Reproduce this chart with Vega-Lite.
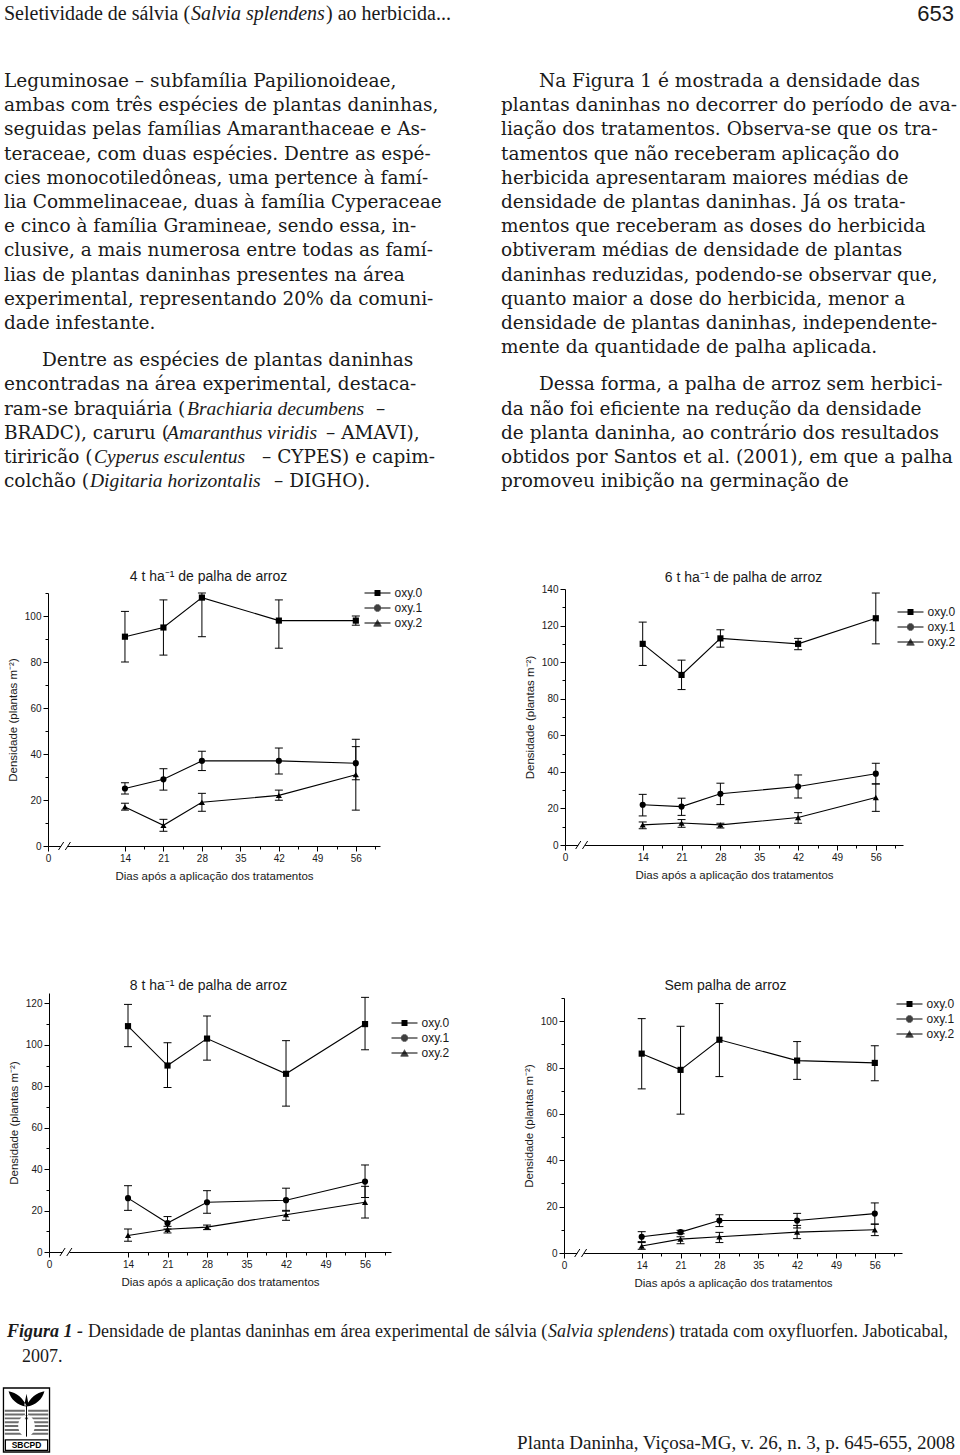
{
"$schema": "https://vega.github.io/schema/vega-lite/v6.json",
"background": "white",
"padding": 0,
"autosize": {"type": "none"},
"width": 960,
"height": 1455,
"config": {
  "view": {"stroke": null},
  "axis": {"labelFont": "Liberation Sans", "labelFontSize": 10, "labelColor": "#1a1a1a", "titleFont": "Liberation Sans", "titleFontSize": 11.5, "titleFontWeight": "normal", "titleColor": "#1a1a1a", "domainColor": "black", "tickColor": "black", "grid": false, "tickSize": 5, "labelPadding": 2, "domainWidth": 1, "tickWidth": 1},
  "axisX": {"titlePadding": 7, "labelFlush": false},
  "axisY": {"titlePadding": 6},
  "legend": {"labelFont": "Liberation Sans", "labelFontSize": 12, "labelColor": "#1a1a1a", "padding": 0, "rowPadding": 3, "labelOffset": 11, "symbolSize": 4, "symbolStrokeWidth": 1, "symbolStrokeColor": "black", "title": null}
},
"datasets": {
  "dens": [
    {"p":"4t","s":"oxy.0","d":14,"m":91,"lo":80,"hi":102},
    {"p":"4t","s":"oxy.0","d":21,"m":95,"lo":83,"hi":107},
    {"p":"4t","s":"oxy.0","d":28,"m":108,"lo":91,"hi":125},
    {"p":"4t","s":"oxy.0","d":42,"m":98,"lo":86,"hi":107},
    {"p":"4t","s":"oxy.0","d":56,"m":98,"lo":96,"hi":100},
    {"p":"4t","s":"oxy.1","d":14,"m":25,"lo":22.6,"hi":27.5},
    {"p":"4t","s":"oxy.1","d":21,"m":29,"lo":24.3,"hi":33.6},
    {"p":"4t","s":"oxy.1","d":28,"m":37,"lo":32.8,"hi":41.2},
    {"p":"4t","s":"oxy.1","d":42,"m":37,"lo":31.3,"hi":42.6},
    {"p":"4t","s":"oxy.1","d":56,"m":36,"lo":28.8,"hi":43.2},
    {"p":"4t","s":"oxy.2","d":14,"m":17,"lo":15.6,"hi":18.6},
    {"p":"4t","s":"oxy.2","d":21,"m":9,"lo":6.4,"hi":11.6},
    {"p":"4t","s":"oxy.2","d":28,"m":19,"lo":15.1,"hi":22.9},
    {"p":"4t","s":"oxy.2","d":42,"m":22,"lo":19.9,"hi":24.3},
    {"p":"4t","s":"oxy.2","d":56,"m":31,"lo":15.6,"hi":46.4},
    {"p":"6t","s":"oxy.0","d":14,"m":110,"lo":98.2,"hi":121.9},
    {"p":"6t","s":"oxy.0","d":21,"m":93,"lo":85,"hi":101.1},
    {"p":"6t","s":"oxy.0","d":28,"m":113,"lo":108.2,"hi":117.7},
    {"p":"6t","s":"oxy.0","d":42,"m":110,"lo":106.8,"hi":113},
    {"p":"6t","s":"oxy.0","d":56,"m":124,"lo":110,"hi":137.8},
    {"p":"6t","s":"oxy.1","d":14,"m":22,"lo":15.9,"hi":27.7},
    {"p":"6t","s":"oxy.1","d":21,"m":21,"lo":16.2,"hi":25.6},
    {"p":"6t","s":"oxy.1","d":28,"m":28,"lo":22.1,"hi":33.8},
    {"p":"6t","s":"oxy.1","d":42,"m":32,"lo":25.7,"hi":38.3},
    {"p":"6t","s":"oxy.1","d":56,"m":39,"lo":33.4,"hi":44.7},
    {"p":"6t","s":"oxy.2","d":14,"m":11,"lo":8.9,"hi":12.6},
    {"p":"6t","s":"oxy.2","d":21,"m":12,"lo":9.7,"hi":13.9},
    {"p":"6t","s":"oxy.2","d":28,"m":11,"lo":9.3,"hi":11.9},
    {"p":"6t","s":"oxy.2","d":42,"m":15,"lo":11.9,"hi":17.7},
    {"p":"6t","s":"oxy.2","d":56,"m":26,"lo":18.4,"hi":33.4},
    {"p":"8t","s":"oxy.0","d":14,"m":109,"lo":99.1,"hi":119.5},
    {"p":"8t","s":"oxy.0","d":21,"m":90,"lo":79.4,"hi":101},
    {"p":"8t","s":"oxy.0","d":28,"m":103,"lo":92.6,"hi":113.9},
    {"p":"8t","s":"oxy.0","d":42,"m":86,"lo":70.4,"hi":102},
    {"p":"8t","s":"oxy.0","d":56,"m":110,"lo":97.6,"hi":122.9},
    {"p":"8t","s":"oxy.1","d":14,"m":26,"lo":20.1,"hi":32},
    {"p":"8t","s":"oxy.1","d":21,"m":14,"lo":11.1,"hi":17.1},
    {"p":"8t","s":"oxy.1","d":28,"m":24,"lo":18.7,"hi":29.6},
    {"p":"8t","s":"oxy.1","d":42,"m":25,"lo":19.7,"hi":30.8},
    {"p":"8t","s":"oxy.1","d":56,"m":34,"lo":26.3,"hi":42},
    {"p":"8t","s":"oxy.2","d":14,"m":8,"lo":5.2,"hi":11.1},
    {"p":"8t","s":"oxy.2","d":21,"m":11,"lo":9.2,"hi":12.4},
    {"p":"8t","s":"oxy.2","d":28,"m":12,"lo":10.8,"hi":13},
    {"p":"8t","s":"oxy.2","d":42,"m":18,"lo":15.3,"hi":20.1},
    {"p":"8t","s":"oxy.2","d":56,"m":24,"lo":16.4,"hi":31.7},
    {"p":"0t","s":"oxy.0","d":14,"m":86,"lo":70.8,"hi":101.1},
    {"p":"0t","s":"oxy.0","d":21,"m":79,"lo":59.9,"hi":97.8},
    {"p":"0t","s":"oxy.0","d":28,"m":92,"lo":76.1,"hi":107.6},
    {"p":"0t","s":"oxy.0","d":42,"m":83,"lo":74.9,"hi":91.2},
    {"p":"0t","s":"oxy.0","d":56,"m":82,"lo":74.3,"hi":89.4},
    {"p":"0t","s":"oxy.1","d":14,"m":7,"lo":4.9,"hi":9.2},
    {"p":"0t","s":"oxy.1","d":21,"m":9,"lo":8.3,"hi":9.8},
    {"p":"0t","s":"oxy.1","d":28,"m":14,"lo":11.4,"hi":16.5},
    {"p":"0t","s":"oxy.1","d":42,"m":14,"lo":10.8,"hi":17.1},
    {"p":"0t","s":"oxy.1","d":56,"m":17,"lo":12.4,"hi":21.6},
    {"p":"0t","s":"oxy.2","d":14,"m":3,"lo":1.6,"hi":4.5},
    {"p":"0t","s":"oxy.2","d":21,"m":6,"lo":4,"hi":7},
    {"p":"0t","s":"oxy.2","d":28,"m":7,"lo":4.5,"hi":8.9},
    {"p":"0t","s":"oxy.2","d":42,"m":9,"lo":6.2,"hi":11.9},
    {"p":"0t","s":"oxy.2","d":56,"m":10,"lo":7.5,"hi":12.5}
  ],
  "body": [
    {"col":"left","para":1,"start":false,"line":0,"text":"Leguminosae – subfamília Papilionoideae,"},
    {"col":"left","para":1,"start":false,"line":1,"text":"ambas com três espécies de plantas daninhas,"},
    {"col":"left","para":1,"start":false,"line":2,"text":"seguidas pelas famílias Amaranthaceae e As-"},
    {"col":"left","para":1,"start":false,"line":3,"text":"teraceae, com duas espécies. Dentre as espé-"},
    {"col":"left","para":1,"start":false,"line":4,"text":"cies monocotiledôneas, uma pertence à famí-"},
    {"col":"left","para":1,"start":false,"line":5,"text":"lia Commelinaceae, duas à família Cyperaceae"},
    {"col":"left","para":1,"start":false,"line":6,"text":"e cinco à família Gramineae, sendo essa, in-"},
    {"col":"left","para":1,"start":false,"line":7,"text":"clusive, a mais numerosa entre todas as famí-"},
    {"col":"left","para":1,"start":false,"line":8,"text":"lias de plantas daninhas presentes na área"},
    {"col":"left","para":1,"start":false,"line":9,"text":"experimental, representando 20% da comuni-"},
    {"col":"left","para":1,"start":false,"line":10,"text":"dade infestante."},
    {"col":"left","para":2,"start":true,"line":11,"text":"Dentre as espécies de plantas daninhas"},
    {"col":"left","para":2,"start":false,"line":12,"text":"encontradas na área experimental, destaca-"},
    {"col":"left","para":2,"start":false,"line":13,"text":"ram-se braquiária ("},
    {"col":"left","para":2,"start":false,"line":14,"text":"BRADC), caruru ("},
    {"col":"left","para":2,"start":false,"line":15,"text":"tiriricão ("},
    {"col":"left","para":2,"start":false,"line":16,"text":"colchão ("},
    {"col":"right","para":1,"start":true,"line":0,"text":"Na Figura 1 é mostrada a densidade das"},
    {"col":"right","para":1,"start":false,"line":1,"text":"plantas daninhas no decorrer do período de ava-"},
    {"col":"right","para":1,"start":false,"line":2,"text":"liação dos tratamentos. Observa-se que os tra-"},
    {"col":"right","para":1,"start":false,"line":3,"text":"tamentos que não receberam aplicação do"},
    {"col":"right","para":1,"start":false,"line":4,"text":"herbicida apresentaram maiores médias de"},
    {"col":"right","para":1,"start":false,"line":5,"text":"densidade de plantas daninhas. Já os trata-"},
    {"col":"right","para":1,"start":false,"line":6,"text":"mentos que receberam as doses do herbicida"},
    {"col":"right","para":1,"start":false,"line":7,"text":"obtiveram médias de densidade de plantas"},
    {"col":"right","para":1,"start":false,"line":8,"text":"daninhas reduzidas, podendo-se observar que,"},
    {"col":"right","para":1,"start":false,"line":9,"text":"quanto maior a dose do herbicida, menor a"},
    {"col":"right","para":1,"start":false,"line":10,"text":"densidade de plantas daninhas, independente-"},
    {"col":"right","para":1,"start":false,"line":11,"text":"mente da quantidade de palha aplicada."},
    {"col":"right","para":2,"start":true,"line":12,"text":"Dessa forma, a palha de arroz sem herbici-"},
    {"col":"right","para":2,"start":false,"line":13,"text":"da não foi eficiente na redução da densidade"},
    {"col":"right","para":2,"start":false,"line":14,"text":"de planta daninha, ao contrário dos resultados"},
    {"col":"right","para":2,"start":false,"line":15,"text":"obtidos por Santos et al. (2001), em que a palha"},
    {"col":"right","para":2,"start":false,"line":16,"text":"promoveu inibição na germinação de"}
  ],
  "bodyit": [
    {"col":"left","para":2,"line":13,"text":"Brachiaria decumbens"},
    {"col":"left","para":2,"line":14,"text":"Amaranthus viridis"},
    {"col":"left","para":2,"line":15,"text":"Cyperus esculentus"},
    {"col":"left","para":2,"line":16,"text":"Digitaria horizontalis"}
  ],
  "bodysuf": [
    {"col":"left","para":2,"line":13,"text":"–"},
    {"col":"left","para":2,"line":14,"text":"– AMAVI),"},
    {"col":"left","para":2,"line":15,"text":"– CYPES) e capim-"},
    {"col":"left","para":2,"line":16,"text":"– DIGHO)."}
  ]
},
"resolve": {"scale": {"x": "independent", "y": "independent", "shape": "independent"}, "axis": {"x": "independent", "y": "independent"}, "legend": {"shape": "independent"}},
"layer": [
  {
    "encoding": {
      "x": {"field": "part", "type": "nominal", "scale": {"domain": ["running", "page"], "range": [4, 954], "padding": 0}, "axis": null},
      "y": {"field": "part", "type": "nominal", "scale": {"domain": ["running", "page"], "range": [14, 14], "padding": 0}, "axis": null},
      "text": {"field": "text"}
    },
    "layer": [
      {"data": {"values": [{"part": "running", "text": "Seletividade de sálvia ("}]},
       "mark": {"type": "text", "align": "left", "baseline": "middle", "font": "Liberation Serif", "fontSize": 20, "color": "#1a1a1a"}},
      {"data": {"values": [{"part": "running", "text": "Salvia splendens"}]},
       "mark": {"type": "text", "align": "left", "baseline": "middle", "font": "Liberation Serif", "fontStyle": "italic", "fontSize": 20, "color": "#1a1a1a", "dx": 187}},
      {"data": {"values": [{"part": "running", "text": ") ao herbicida..."}]},
       "mark": {"type": "text", "align": "left", "baseline": "middle", "font": "Liberation Serif", "fontSize": 20, "color": "#1a1a1a", "dx": 322}},
      {"data": {"values": [{"part": "page", "text": "653"}]},
       "mark": {"type": "text", "align": "right", "baseline": "middle", "font": "Liberation Sans", "fontSize": 22, "color": "#1a1a1a"}}
    ]
  },
  {
    "encoding": {
      "x": {"field": "col", "type": "nominal", "scale": {"domain": ["left", "right"], "range": [4, 501], "padding": 0}, "axis": null},
      "y": {"field": "line", "type": "quantitative", "scale": {"domain": [0, 20], "range": [81, 565], "nice": false, "zero": false}, "axis": null},
      "text": {"field": "text"}
    },
    "layer": [
      {"data": {"name": "body"},
       "mark": {"type": "text", "align": "left", "baseline": "middle", "font": "DejaVu Serif", "fontSize": 18.5, "color": "#1a1a1a", "dx": {"expr": "datum.start ? 38 : 0"}, "dy": {"expr": "datum.para == 2 ? 13 : 0"}}},
      {"data": {"name": "bodyit"},
       "mark": {"type": "text", "align": "left", "baseline": "middle", "font": "Liberation Serif", "fontStyle": "italic", "fontSize": 19.5, "color": "#1a1a1a", "dx": {"expr": "datum.line == 13 ? 183 : datum.line == 14 ? 163 : datum.line == 15 ? 90 : 86"}, "dy": 13}},
      {"data": {"name": "bodysuf"},
       "mark": {"type": "text", "align": "left", "baseline": "middle", "font": "DejaVu Serif", "fontSize": 18.5, "color": "#1a1a1a", "dx": {"expr": "datum.line == 13 ? 372 : datum.line == 14 ? 322 : datum.line == 15 ? 258 : 270"}, "dy": 13}}
    ]
  },
  {
    "data": {"name": "dens"},
    "transform": [{"filter": "datum.p == '4t'"}],
    "resolve": {"axis": {"x": "independent", "y": "independent"}, "scale": {"shape": "independent"}, "legend": {"shape": "independent"}},
    "layer": [
      {"mark": {"type": "line", "color": "black", "strokeWidth": 1.1},
       "encoding": {
         "x": {"field": "d", "type": "quantitative", "scale": {"domain": [0, 60.4], "range": [48, 380], "nice": false, "zero": false}, "axis": {"orient": "bottom", "offset": -609, "values": [0,14,21,28,35,42,49,56], "title": "Dias após a aplicação dos tratamentos"}},
         "y": {"field": "m", "type": "quantitative", "scale": {"domain": [0, 110], "range": [846, 593], "nice": false, "zero": false, "clamp": true}, "axis": {"orient": "left", "offset": -48, "values": [0,20,40,60,80,100], "title": "Densidade (plantas m⁻²)"}},
         "detail": {"field": "s", "type": "nominal"}}},
      {"mark": {"type": "rule", "color": "black", "strokeWidth": 1},
       "encoding": {
         "x": {"field": "d", "type": "quantitative", "scale": {"domain": [0, 60.4], "range": [48, 380], "nice": false, "zero": false}, "axis": {"orient": "bottom", "offset": -609, "values": [17.5,24.5,31.5,38.5,45.5,52.5,59.5], "labels": false, "domain": false, "tickSize": 3, "title": null}},
         "y": {"field": "lo", "type": "quantitative", "scale": {"domain": [0, 110], "range": [846, 593], "nice": false, "zero": false, "clamp": true}, "axis": {"orient": "left", "offset": -48, "values": [10,30,50,70,90,110], "labels": false, "domain": false, "tickSize": 3, "title": null}},
         "y2": {"field": "hi"}}},
      {"mark": {"type": "tick", "orient": "horizontal", "size": 8, "thickness": 1, "color": "black", "opacity": 1},
       "encoding": {
         "x": {"field": "d", "type": "quantitative", "scale": {"domain": [0, 60.4], "range": [48, 380], "nice": false, "zero": false}, "axis": {"orient": "top", "offset": -593, "labels": false, "ticks": false, "domain": false, "title": "4 t ha⁻¹ de palha de arroz", "titleFontSize": 14, "titleX": 208, "titleY": -17, "titleBaseline": "middle", "titleAnchor": "start", "titleAlign": "center"}},
         "y": {"field": "lo", "type": "quantitative", "scale": {"domain": [0, 110], "range": [846, 593], "nice": false, "zero": false, "clamp": true}, "axis": null}}},
      {"mark": {"type": "tick", "orient": "horizontal", "size": 8, "thickness": 1, "color": "black", "opacity": 1},
       "encoding": {
         "x": {"field": "d", "type": "quantitative", "scale": {"domain": [0, 60.4], "range": [48, 380], "nice": false, "zero": false}, "axis": null},
         "y": {"field": "hi", "type": "quantitative", "scale": {"domain": [0, 110], "range": [846, 593], "nice": false, "zero": false, "clamp": true}, "axis": null}}},
      {"mark": {"type": "point", "filled": true, "size": 38, "color": "black", "opacity": 1},
       "encoding": {
         "x": {"field": "d", "type": "quantitative", "scale": {"domain": [0, 60.4], "range": [48, 380], "nice": false, "zero": false}, "axis": null},
         "y": {"field": "m", "type": "quantitative", "scale": {"domain": [0, 110], "range": [846, 593], "nice": false, "zero": false, "clamp": true}, "axis": null},
         "shape": {"field": "s", "type": "nominal", "scale": {"domain": ["oxy.0","oxy.1","oxy.2"], "range": ["square","circle","triangle-up"]}, "legend": null}}},
      {"data": {"values": []},
       "mark": {"type": "point", "filled": false, "size": 4, "strokeWidth": 1, "color": "black", "opacity": 1},
       "encoding": {
         "shape": {"field": "s", "type": "nominal", "scale": {"domain": ["oxy.0","oxy.1","oxy.2"], "range": ["M-13,0H13M-3,-2.5H3M-3,-1.5H3M-3,-0.5H3M-3,0.5H3M-3,1.5H3M-3,2.5H3", "M-13,0H13M-1.8,-3H1.8M-2.9,-2H2.9M-3.35,-1H3.35M-3.35,1H3.35M-2.9,2H2.9M-1.8,3H1.8", "M-13,0H13M-0.3,-3H0.3M-0.9,-2H0.9M-1.5,-1H1.5M-2.2,0H2.2M-2.8,1H2.8M-3.4,2H3.4M-4,3H4"]},
           "legend": {"orient": "none", "legendX": 371.5, "legendY": 587, "title": null}}}},
      {"data": {"values": [{"p": "4t", "d": 3, "m": 0}]},
       "mark": {"type": "point", "shape": "square", "size": 49, "filled": true, "color": "white", "opacity": 1},
       "encoding": {
         "x": {"field": "d", "type": "quantitative", "scale": {"domain": [0, 60.4], "range": [48, 380], "nice": false, "zero": false}, "axis": null},
         "y": {"field": "m", "type": "quantitative", "scale": {"domain": [0, 110], "range": [846, 593], "nice": false, "zero": false, "clamp": true}, "axis": null}}},
      {"data": {"values": [{"p": "4t", "d": 3, "m": 0}]},
       "mark": {"type": "point", "shape": "M-1.5,1L-0.2,-1M0.2,1L1.5,-1", "size": 64, "filled": false, "color": "black", "strokeWidth": 1, "opacity": 1},
       "encoding": {
         "x": {"field": "d", "type": "quantitative", "scale": {"domain": [0, 60.4], "range": [48, 380], "nice": false, "zero": false}, "axis": null},
         "y": {"field": "m", "type": "quantitative", "scale": {"domain": [0, 110], "range": [846, 593], "nice": false, "zero": false, "clamp": true}, "axis": null}}}
    ]
  },
  {
    "data": {"name": "dens"},
    "transform": [{"filter": "datum.p == '6t'"}],
    "resolve": {"axis": {"x": "independent", "y": "independent"}, "scale": {"shape": "independent"}, "legend": {"shape": "independent"}},
    "layer": [
      {"mark": {"type": "line", "color": "black", "strokeWidth": 1.1},
       "encoding": {
         "x": {"field": "d", "type": "quantitative", "scale": {"domain": [0, 60.9], "range": [565, 903], "nice": false, "zero": false}, "axis": {"orient": "bottom", "offset": -610, "values": [0,14,21,28,35,42,49,56], "title": "Dias após a aplicação dos tratamentos"}},
         "y": {"field": "m", "type": "quantitative", "scale": {"domain": [0, 140], "range": [845, 589], "nice": false, "zero": false, "clamp": true}, "axis": {"orient": "left", "offset": -565, "values": [0,20,40,60,80,100,120,140], "title": "Densidade (plantas m⁻²)"}},
         "detail": {"field": "s", "type": "nominal"}}},
      {"mark": {"type": "rule", "color": "black", "strokeWidth": 1},
       "encoding": {
         "x": {"field": "d", "type": "quantitative", "scale": {"domain": [0, 60.9], "range": [565, 903], "nice": false, "zero": false}, "axis": {"orient": "bottom", "offset": -610, "values": [17.5,24.5,31.5,38.5,45.5,52.5,59.5], "labels": false, "domain": false, "tickSize": 3, "title": null}},
         "y": {"field": "lo", "type": "quantitative", "scale": {"domain": [0, 140], "range": [845, 589], "nice": false, "zero": false, "clamp": true}, "axis": {"orient": "left", "offset": -565, "values": [10,30,50,70,90,110,130], "labels": false, "domain": false, "tickSize": 3, "title": null}},
         "y2": {"field": "hi"}}},
      {"mark": {"type": "tick", "orient": "horizontal", "size": 8, "thickness": 1, "color": "black", "opacity": 1},
       "encoding": {
         "x": {"field": "d", "type": "quantitative", "scale": {"domain": [0, 60.9], "range": [565, 903], "nice": false, "zero": false}, "axis": {"orient": "top", "offset": -589, "labels": false, "ticks": false, "domain": false, "title": "6 t ha⁻¹ de palha de arroz", "titleFontSize": 14, "titleX": 743, "titleY": -12, "titleBaseline": "middle", "titleAnchor": "start", "titleAlign": "center"}},
         "y": {"field": "lo", "type": "quantitative", "scale": {"domain": [0, 140], "range": [845, 589], "nice": false, "zero": false, "clamp": true}, "axis": null}}},
      {"mark": {"type": "tick", "orient": "horizontal", "size": 8, "thickness": 1, "color": "black", "opacity": 1},
       "encoding": {
         "x": {"field": "d", "type": "quantitative", "scale": {"domain": [0, 60.9], "range": [565, 903], "nice": false, "zero": false}, "axis": null},
         "y": {"field": "hi", "type": "quantitative", "scale": {"domain": [0, 140], "range": [845, 589], "nice": false, "zero": false, "clamp": true}, "axis": null}}},
      {"mark": {"type": "point", "filled": true, "size": 38, "color": "black", "opacity": 1},
       "encoding": {
         "x": {"field": "d", "type": "quantitative", "scale": {"domain": [0, 60.9], "range": [565, 903], "nice": false, "zero": false}, "axis": null},
         "y": {"field": "m", "type": "quantitative", "scale": {"domain": [0, 140], "range": [845, 589], "nice": false, "zero": false, "clamp": true}, "axis": null},
         "shape": {"field": "s", "type": "nominal", "scale": {"domain": ["oxy.0","oxy.1","oxy.2"], "range": ["square","circle","triangle-up"]}, "legend": null}}},
      {"data": {"values": []},
       "mark": {"type": "point", "filled": false, "size": 4, "strokeWidth": 1, "color": "black", "opacity": 1},
       "encoding": {
         "shape": {"field": "s", "type": "nominal", "scale": {"domain": ["oxy.0","oxy.1","oxy.2"], "range": ["M-13,0H13M-3,-2.5H3M-3,-1.5H3M-3,-0.5H3M-3,0.5H3M-3,1.5H3M-3,2.5H3", "M-13,0H13M-1.8,-3H1.8M-2.9,-2H2.9M-3.35,-1H3.35M-3.35,1H3.35M-2.9,2H2.9M-1.8,3H1.8", "M-13,0H13M-0.3,-3H0.3M-0.9,-2H0.9M-1.5,-1H1.5M-2.2,0H2.2M-2.8,1H2.8M-3.4,2H3.4M-4,3H4"]},
           "legend": {"orient": "none", "legendX": 904.5, "legendY": 606, "title": null}}}},
      {"data": {"values": [{"p": "6t", "d": 3, "m": 0}]},
       "mark": {"type": "point", "shape": "square", "size": 49, "filled": true, "color": "white", "opacity": 1},
       "encoding": {
         "x": {"field": "d", "type": "quantitative", "scale": {"domain": [0, 60.9], "range": [565, 903], "nice": false, "zero": false}, "axis": null},
         "y": {"field": "m", "type": "quantitative", "scale": {"domain": [0, 140], "range": [845, 589], "nice": false, "zero": false, "clamp": true}, "axis": null}}},
      {"data": {"values": [{"p": "6t", "d": 3, "m": 0}]},
       "mark": {"type": "point", "shape": "M-1.5,1L-0.2,-1M0.2,1L1.5,-1", "size": 64, "filled": false, "color": "black", "strokeWidth": 1, "opacity": 1},
       "encoding": {
         "x": {"field": "d", "type": "quantitative", "scale": {"domain": [0, 60.9], "range": [565, 903], "nice": false, "zero": false}, "axis": null},
         "y": {"field": "m", "type": "quantitative", "scale": {"domain": [0, 140], "range": [845, 589], "nice": false, "zero": false, "clamp": true}, "axis": null}}}
    ]
  },
  {
    "data": {"name": "dens"},
    "transform": [{"filter": "datum.p == '8t'"}],
    "resolve": {"axis": {"x": "independent", "y": "independent"}, "scale": {"shape": "independent"}, "legend": {"shape": "independent"}},
    "layer": [
      {"mark": {"type": "line", "color": "black", "strokeWidth": 1.1},
       "encoding": {
         "x": {"field": "d", "type": "quantitative", "scale": {"domain": [0, 60.6], "range": [49, 391], "nice": false, "zero": false}, "axis": {"orient": "bottom", "offset": -203, "values": [0,14,21,28,35,42,49,56], "title": "Dias após a aplicação dos tratamentos"}},
         "y": {"field": "m", "type": "quantitative", "scale": {"domain": [0, 125], "range": [1252, 993], "nice": false, "zero": false, "clamp": true}, "axis": {"orient": "left", "offset": -49, "values": [0,20,40,60,80,100,120], "title": "Densidade (plantas m⁻²)"}},
         "detail": {"field": "s", "type": "nominal"}}},
      {"mark": {"type": "rule", "color": "black", "strokeWidth": 1},
       "encoding": {
         "x": {"field": "d", "type": "quantitative", "scale": {"domain": [0, 60.6], "range": [49, 391], "nice": false, "zero": false}, "axis": {"orient": "bottom", "offset": -203, "values": [17.5,24.5,31.5,38.5,45.5,52.5,59.5], "labels": false, "domain": false, "tickSize": 3, "title": null}},
         "y": {"field": "lo", "type": "quantitative", "scale": {"domain": [0, 125], "range": [1252, 993], "nice": false, "zero": false, "clamp": true}, "axis": {"orient": "left", "offset": -49, "values": [10,30,50,70,90,110], "labels": false, "domain": false, "tickSize": 3, "title": null}},
         "y2": {"field": "hi"}}},
      {"mark": {"type": "tick", "orient": "horizontal", "size": 8, "thickness": 1, "color": "black", "opacity": 1},
       "encoding": {
         "x": {"field": "d", "type": "quantitative", "scale": {"domain": [0, 60.6], "range": [49, 391], "nice": false, "zero": false}, "axis": {"orient": "top", "offset": -993, "labels": false, "ticks": false, "domain": false, "title": "8 t ha⁻¹ de palha de arroz", "titleFontSize": 14, "titleX": 208, "titleY": -8, "titleBaseline": "middle", "titleAnchor": "start", "titleAlign": "center"}},
         "y": {"field": "lo", "type": "quantitative", "scale": {"domain": [0, 125], "range": [1252, 993], "nice": false, "zero": false, "clamp": true}, "axis": null}}},
      {"mark": {"type": "tick", "orient": "horizontal", "size": 8, "thickness": 1, "color": "black", "opacity": 1},
       "encoding": {
         "x": {"field": "d", "type": "quantitative", "scale": {"domain": [0, 60.6], "range": [49, 391], "nice": false, "zero": false}, "axis": null},
         "y": {"field": "hi", "type": "quantitative", "scale": {"domain": [0, 125], "range": [1252, 993], "nice": false, "zero": false, "clamp": true}, "axis": null}}},
      {"mark": {"type": "point", "filled": true, "size": 38, "color": "black", "opacity": 1},
       "encoding": {
         "x": {"field": "d", "type": "quantitative", "scale": {"domain": [0, 60.6], "range": [49, 391], "nice": false, "zero": false}, "axis": null},
         "y": {"field": "m", "type": "quantitative", "scale": {"domain": [0, 125], "range": [1252, 993], "nice": false, "zero": false, "clamp": true}, "axis": null},
         "shape": {"field": "s", "type": "nominal", "scale": {"domain": ["oxy.0","oxy.1","oxy.2"], "range": ["square","circle","triangle-up"]}, "legend": null}}},
      {"data": {"values": []},
       "mark": {"type": "point", "filled": false, "size": 4, "strokeWidth": 1, "color": "black", "opacity": 1},
       "encoding": {
         "shape": {"field": "s", "type": "nominal", "scale": {"domain": ["oxy.0","oxy.1","oxy.2"], "range": ["M-13,0H13M-3,-2.5H3M-3,-1.5H3M-3,-0.5H3M-3,0.5H3M-3,1.5H3M-3,2.5H3", "M-13,0H13M-1.8,-3H1.8M-2.9,-2H2.9M-3.35,-1H3.35M-3.35,1H3.35M-2.9,2H2.9M-1.8,3H1.8", "M-13,0H13M-0.3,-3H0.3M-0.9,-2H0.9M-1.5,-1H1.5M-2.2,0H2.2M-2.8,1H2.8M-3.4,2H3.4M-4,3H4"]},
           "legend": {"orient": "none", "legendX": 398.5, "legendY": 1017, "title": null}}}},
      {"data": {"values": [{"p": "8t", "d": 3, "m": 0}]},
       "mark": {"type": "point", "shape": "square", "size": 49, "filled": true, "color": "white", "opacity": 1},
       "encoding": {
         "x": {"field": "d", "type": "quantitative", "scale": {"domain": [0, 60.6], "range": [49, 391], "nice": false, "zero": false}, "axis": null},
         "y": {"field": "m", "type": "quantitative", "scale": {"domain": [0, 125], "range": [1252, 993], "nice": false, "zero": false, "clamp": true}, "axis": null}}},
      {"data": {"values": [{"p": "8t", "d": 3, "m": 0}]},
       "mark": {"type": "point", "shape": "M-1.5,1L-0.2,-1M0.2,1L1.5,-1", "size": 64, "filled": false, "color": "black", "strokeWidth": 1, "opacity": 1},
       "encoding": {
         "x": {"field": "d", "type": "quantitative", "scale": {"domain": [0, 60.6], "range": [49, 391], "nice": false, "zero": false}, "axis": null},
         "y": {"field": "m", "type": "quantitative", "scale": {"domain": [0, 125], "range": [1252, 993], "nice": false, "zero": false, "clamp": true}, "axis": null}}}
    ]
  },
  {
    "data": {"name": "dens"},
    "transform": [{"filter": "datum.p == '0t'"}],
    "resolve": {"axis": {"x": "independent", "y": "independent"}, "scale": {"shape": "independent"}, "legend": {"shape": "independent"}},
    "layer": [
      {"mark": {"type": "line", "color": "black", "strokeWidth": 1.1},
       "encoding": {
         "x": {"field": "d", "type": "quantitative", "scale": {"domain": [0, 60.9], "range": [564, 902], "nice": false, "zero": false}, "axis": {"orient": "bottom", "offset": -202, "values": [0,14,21,28,35,42,49,56], "title": "Dias após a aplicação dos tratamentos"}},
         "y": {"field": "m", "type": "quantitative", "scale": {"domain": [0, 110], "range": [1253, 998], "nice": false, "zero": false, "clamp": true}, "axis": {"orient": "left", "offset": -564, "values": [0,20,40,60,80,100], "title": "Densidade (plantas m⁻²)"}},
         "detail": {"field": "s", "type": "nominal"}}},
      {"mark": {"type": "rule", "color": "black", "strokeWidth": 1},
       "encoding": {
         "x": {"field": "d", "type": "quantitative", "scale": {"domain": [0, 60.9], "range": [564, 902], "nice": false, "zero": false}, "axis": {"orient": "bottom", "offset": -202, "values": [17.5,24.5,31.5,38.5,45.5,52.5,59.5], "labels": false, "domain": false, "tickSize": 3, "title": null}},
         "y": {"field": "lo", "type": "quantitative", "scale": {"domain": [0, 110], "range": [1253, 998], "nice": false, "zero": false, "clamp": true}, "axis": {"orient": "left", "offset": -564, "values": [10,30,50,70,90,110], "labels": false, "domain": false, "tickSize": 3, "title": null}},
         "y2": {"field": "hi"}}},
      {"mark": {"type": "tick", "orient": "horizontal", "size": 8, "thickness": 1, "color": "black", "opacity": 1},
       "encoding": {
         "x": {"field": "d", "type": "quantitative", "scale": {"domain": [0, 60.9], "range": [564, 902], "nice": false, "zero": false}, "axis": {"orient": "top", "offset": -998, "labels": false, "ticks": false, "domain": false, "title": "Sem palha de arroz", "titleFontSize": 14, "titleX": 725, "titleY": -13, "titleBaseline": "middle", "titleAnchor": "start", "titleAlign": "center"}},
         "y": {"field": "lo", "type": "quantitative", "scale": {"domain": [0, 110], "range": [1253, 998], "nice": false, "zero": false, "clamp": true}, "axis": null}}},
      {"mark": {"type": "tick", "orient": "horizontal", "size": 8, "thickness": 1, "color": "black", "opacity": 1},
       "encoding": {
         "x": {"field": "d", "type": "quantitative", "scale": {"domain": [0, 60.9], "range": [564, 902], "nice": false, "zero": false}, "axis": null},
         "y": {"field": "hi", "type": "quantitative", "scale": {"domain": [0, 110], "range": [1253, 998], "nice": false, "zero": false, "clamp": true}, "axis": null}}},
      {"mark": {"type": "point", "filled": true, "size": 38, "color": "black", "opacity": 1},
       "encoding": {
         "x": {"field": "d", "type": "quantitative", "scale": {"domain": [0, 60.9], "range": [564, 902], "nice": false, "zero": false}, "axis": null},
         "y": {"field": "m", "type": "quantitative", "scale": {"domain": [0, 110], "range": [1253, 998], "nice": false, "zero": false, "clamp": true}, "axis": null},
         "shape": {"field": "s", "type": "nominal", "scale": {"domain": ["oxy.0","oxy.1","oxy.2"], "range": ["square","circle","triangle-up"]}, "legend": null}}},
      {"data": {"values": []},
       "mark": {"type": "point", "filled": false, "size": 4, "strokeWidth": 1, "color": "black", "opacity": 1},
       "encoding": {
         "shape": {"field": "s", "type": "nominal", "scale": {"domain": ["oxy.0","oxy.1","oxy.2"], "range": ["M-13,0H13M-3,-2.5H3M-3,-1.5H3M-3,-0.5H3M-3,0.5H3M-3,1.5H3M-3,2.5H3", "M-13,0H13M-1.8,-3H1.8M-2.9,-2H2.9M-3.35,-1H3.35M-3.35,1H3.35M-2.9,2H2.9M-1.8,3H1.8", "M-13,0H13M-0.3,-3H0.3M-0.9,-2H0.9M-1.5,-1H1.5M-2.2,0H2.2M-2.8,1H2.8M-3.4,2H3.4M-4,3H4"]},
           "legend": {"orient": "none", "legendX": 903.5, "legendY": 998, "title": null}}}},
      {"data": {"values": [{"p": "0t", "d": 3, "m": 0}]},
       "mark": {"type": "point", "shape": "square", "size": 49, "filled": true, "color": "white", "opacity": 1},
       "encoding": {
         "x": {"field": "d", "type": "quantitative", "scale": {"domain": [0, 60.9], "range": [564, 902], "nice": false, "zero": false}, "axis": null},
         "y": {"field": "m", "type": "quantitative", "scale": {"domain": [0, 110], "range": [1253, 998], "nice": false, "zero": false, "clamp": true}, "axis": null}}},
      {"data": {"values": [{"p": "0t", "d": 3, "m": 0}]},
       "mark": {"type": "point", "shape": "M-1.5,1L-0.2,-1M0.2,1L1.5,-1", "size": 64, "filled": false, "color": "black", "strokeWidth": 1, "opacity": 1},
       "encoding": {
         "x": {"field": "d", "type": "quantitative", "scale": {"domain": [0, 60.9], "range": [564, 902], "nice": false, "zero": false}, "axis": null},
         "y": {"field": "m", "type": "quantitative", "scale": {"domain": [0, 110], "range": [1253, 998], "nice": false, "zero": false, "clamp": true}, "axis": null}}}
    ]
  },
  {
    "encoding": {
      "x": {"field": "line", "type": "ordinal", "scale": {"domain": [0, 1], "range": [7, 22], "padding": 0}, "axis": null},
      "y": {"field": "line", "type": "ordinal", "scale": {"domain": [0, 1], "range": [1332, 1357], "padding": 0}, "axis": null},
      "text": {"field": "text"}
    },
    "layer": [
      {"data": {"values": [{"line": 0, "text": "Figura 1 -"}]},
       "mark": {"type": "text", "align": "left", "baseline": "middle", "font": "Liberation Serif", "fontStyle": "italic", "fontWeight": "bold", "fontSize": 18, "color": "#1a1a1a"}},
      {"data": {"values": [{"line": 0, "text": "Densidade de plantas daninhas em área experimental de sálvia ("}]},
       "mark": {"type": "text", "align": "left", "baseline": "middle", "font": "Liberation Serif", "fontSize": 18, "color": "#1a1a1a", "dx": 81}},
      {"data": {"values": [{"line": 0, "text": "Salvia splendens"}]},
       "mark": {"type": "text", "align": "left", "baseline": "middle", "font": "Liberation Serif", "fontStyle": "italic", "fontSize": 18, "color": "#1a1a1a", "dx": 541}},
      {"data": {"values": [{"line": 0, "text": ") tratada com oxyfluorfen. Jaboticabal,"}]},
       "mark": {"type": "text", "align": "left", "baseline": "middle", "font": "Liberation Serif", "fontSize": 18, "color": "#1a1a1a", "dx": 662}},
      {"data": {"values": [{"line": 1, "text": "2007."}]},
       "mark": {"type": "text", "align": "left", "baseline": "middle", "font": "Liberation Serif", "fontSize": 18, "color": "#1a1a1a"}}
    ]
  },
  {
    "encoding": {
      "x": {"field": "part", "type": "nominal", "scale": {"domain": ["logo", "ref"], "range": [26.5, 955], "padding": 0}, "axis": null},
      "y": {"field": "part", "type": "nominal", "scale": {"domain": ["logo", "ref"], "range": [1420, 1443], "padding": 0}, "axis": null}
    },
    "layer": [
      {"data": {"values": [{"part": "logo"}]},
       "mark": {"type": "point", "shape": "M-0.68,-0.32H0.68V-0.26H-0.68Z M-0.68,-0.2H0.68V-0.14H-0.68Z M-0.68,-0.08H0.68V-0.02H-0.68Z M-0.68,0.04H0.68V0.1H-0.68Z M-0.68,0.16H0.68V0.22H-0.68Z M-0.68,0.28H0.68V0.34H-0.68Z M-0.68,0.4H0.68V0.46H-0.68Z", "size": 4096, "filled": true, "color": "#6e6e6e", "opacity": 1}},
      {"data": {"values": [{"part": "logo"}]},
       "mark": {"type": "point", "shape": "M-0.26,0.18A0.26,0.34 0 1,0 0.26,0.18A0.26,0.34 0 1,0 -0.26,0.18Z M-0.05,-0.45H0.05V0H-0.05Z", "size": 4096, "filled": true, "color": "white", "opacity": 1}},
      {"data": {"values": [{"part": "logo"}]},
       "mark": {"type": "point", "shape": "M0,0.52V-0.45", "size": 4096, "filled": false, "color": "black", "strokeWidth": 1, "opacity": 1}},
      {"data": {"values": [{"part": "logo"}]},
       "mark": {"type": "point", "shape": "M0,-0.42C-0.08,-0.68 -0.32,-0.86 -0.56,-0.9C-0.5,-0.66 -0.3,-0.46 0,-0.42Z M0,-0.42C0.08,-0.68 0.32,-0.86 0.56,-0.9C0.5,-0.66 0.3,-0.46 0,-0.42Z M-0.07,-0.45L0,-0.82L0.07,-0.45Z", "size": 4096, "filled": true, "color": "black", "opacity": 1}},
      {"data": {"values": [{"part": "logo"}]},
       "mark": {"type": "point", "shape": "M-0.72,-1H0.72V1H-0.72Z M-0.66,0.62H0.66V0.95H-0.66Z", "size": 4096, "filled": false, "color": "black", "strokeWidth": 1.3, "opacity": 1}},
      {"data": {"values": [{"part": "logo", "text": "SBCPD"}]},
       "mark": {"type": "text", "align": "center", "baseline": "middle", "font": "Liberation Sans", "fontWeight": "bold", "fontSize": 8.5, "color": "black", "dy": 25},
       "encoding": {"text": {"field": "text"}}},
      {"data": {"values": [{"part": "ref", "text": "Planta Daninha, Viçosa-MG, v. 26, n. 3, p. 645-655, 2008"}]},
       "mark": {"type": "text", "align": "right", "baseline": "middle", "font": "Liberation Serif", "fontSize": 19, "color": "#1a1a1a"},
       "encoding": {"text": {"field": "text"}}}
    ]
  }
]
}
